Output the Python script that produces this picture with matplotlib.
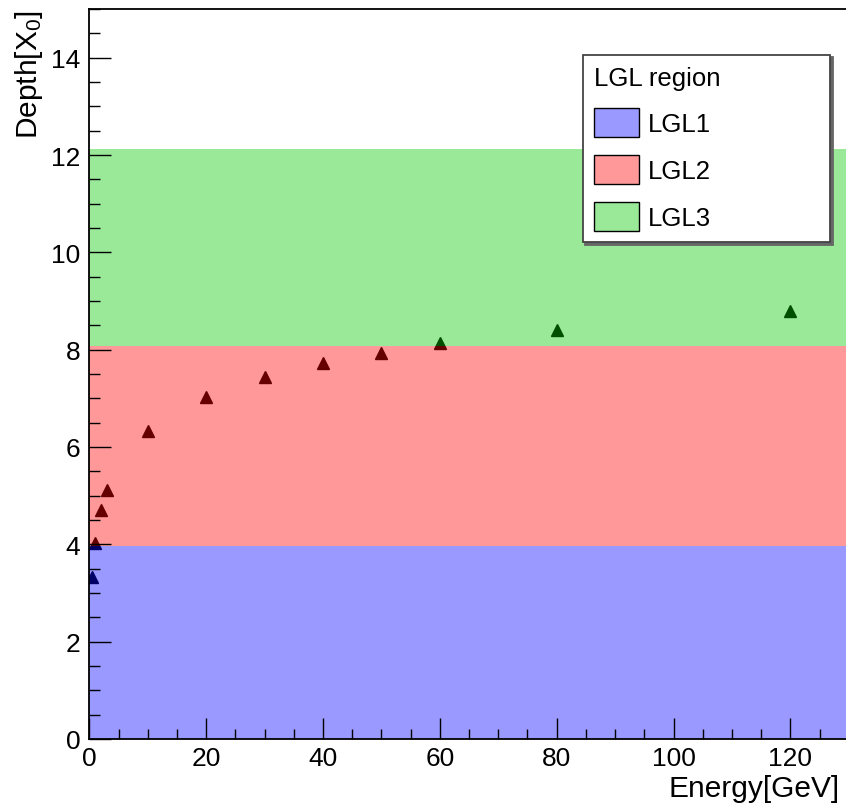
import matplotlib
matplotlib.use("Agg")
import matplotlib.pyplot as plt
from matplotlib.colors import to_rgba
from matplotlib.ticker import MultipleLocator

# shower depth vs beam energy
energy = [0.5, 1, 2, 3, 10, 20, 30, 40, 50, 60, 80, 120]
depth = [3.33, 4.03, 4.71, 5.12, 6.33, 7.02, 7.43, 7.72, 7.93, 8.13, 8.40, 8.80]

# longitudinal regions (in X0)
region_names = ["LGL1", "LGL2", "LGL3"]
region_edges = [0.0, 3.97, 8.08, 12.13]
region_colors = ["#0000ff", "#ff0000", "#00c800"]

plt.rcParams["font.family"] = ["Liberation Sans", "DejaVu Sans"]
plt.rcParams["mathtext.default"] = "regular"

W, H = 846, 804
fig = plt.figure(figsize=(W / 100, H / 100), dpi=100)
x0, x1 = 89.3, 848.8
y0, y1 = 740.0, 10.0
ax = fig.add_axes([x0 / W, (H - y0) / H, (x1 - x0) / W, (y0 - y1) / H])

# markers sit under the translucent region fills
ax.plot(energy, depth, linestyle="none", marker="^", markersize=8,
        color="black", zorder=1)

spans = []
for name, lo, hi, c in zip(region_names, region_edges[:-1], region_edges[1:], region_colors):
    p = ax.axhspan(lo, hi, facecolor=to_rgba(c, 0.4), edgecolor="none",
                   linewidth=0, label=name, zorder=1.5)
    spans.append(p)

ax.set_xlim(0, 130)
ax.set_ylim(0, 15)

ax.xaxis.set_major_locator(MultipleLocator(20))
ax.xaxis.set_minor_locator(MultipleLocator(5))
ax.yaxis.set_major_locator(MultipleLocator(2))
ax.yaxis.set_minor_locator(MultipleLocator(0.5))

ax.tick_params(which="both", direction="in", top=False, right=False,
               labelsize=19, width=1.0, color="black")
ax.tick_params(axis="y", which="major", length=15.5, pad=6.5)
ax.tick_params(axis="y", which="minor", length=8)
ax.tick_params(axis="x", which="major", length=15, pad=5)
ax.tick_params(axis="x", which="minor", length=7.5)

for s in ax.spines.values():
    s.set_linewidth(1.3)
    s.set_color("black")

ax.set_xlabel("Energy[GeV]", fontsize=21.5, loc="right")
ax.xaxis.set_label_coords(0.988, -0.078)
ax.xaxis.label.set_va("baseline")

ax.set_ylabel("Depth[X$_0$]", fontsize=21.5, loc="top")
ax.yaxis.set_label_coords(-0.069, 1.0)
ax.yaxis.label.set_va("baseline")

lx0 = (582.7 - x0) / (x1 - x0)
lx1 = (830.0 - x0) / (x1 - x0)
ltop = (y0 - 55.7) / (y0 - y1)
leg = ax.legend(handles=spans, title="LGL region", loc="upper left",
                bbox_to_anchor=(lx0, ltop - 0.25, lx1 - lx0, 0.25),
                mode="expand", borderaxespad=0, fontsize=18.5,
                title_fontsize=18.5, alignment="left", fancybox=False,
                edgecolor="#444444", framealpha=1, borderpad=0.45,
                labelspacing=0.7, handleheight=1.35, handlelength=1.75,
                handletextpad=0.35,
                shadow={"color": "#666666", "alpha": 1.0})
leg.get_frame().set_linewidth(1.3)
for h in leg.legend_handles:
    h.set_edgecolor("black")
    h.set_linewidth(1.0)

fig.savefig("out.png", dpi=100)
